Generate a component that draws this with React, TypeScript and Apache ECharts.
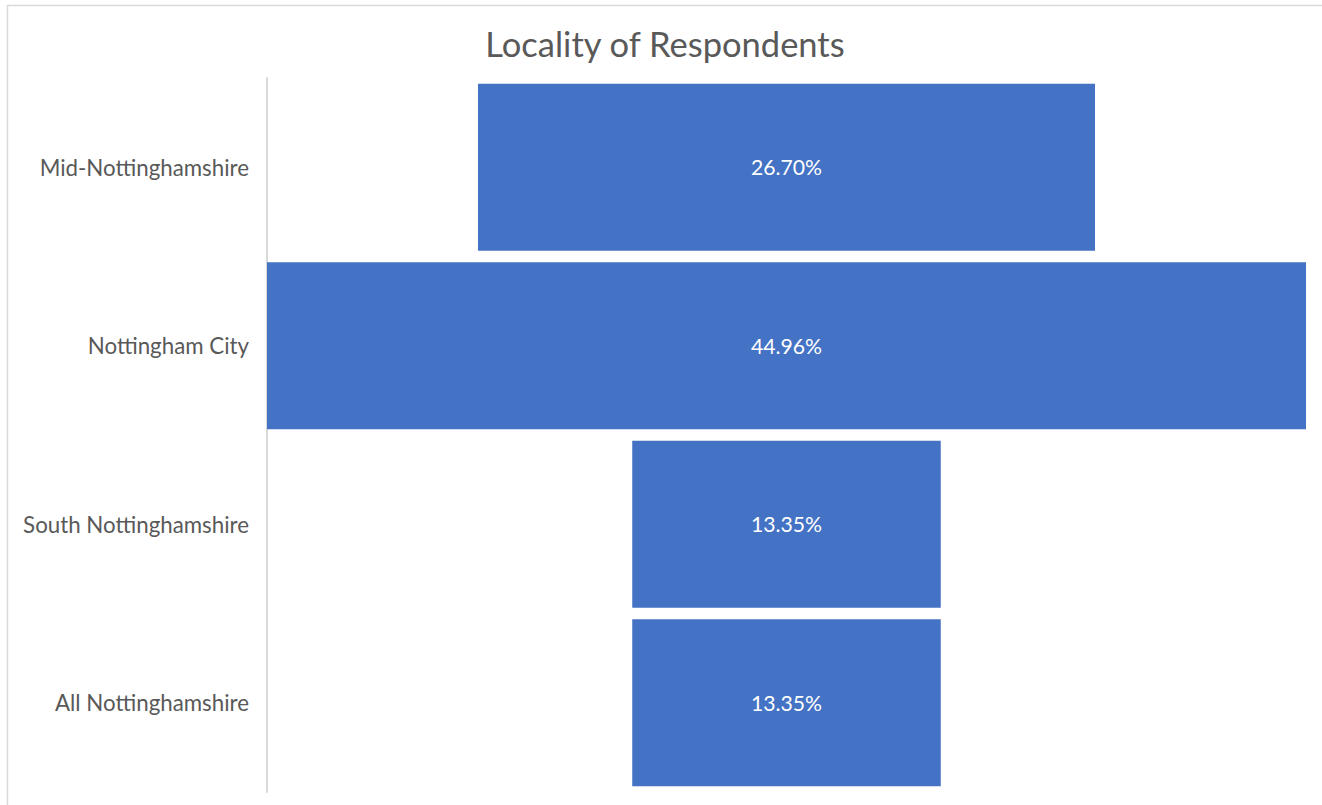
import React, { useEffect, useRef } from "react";
import * as echarts from "echarts";

const categories = ["Mid-Nottinghamshire", "Nottingham City", "South Nottinghamshire", "All Nottinghamshire"];
const values = [26.7, 44.96, 13.35, 13.35];
const titleText = "Locality of Respondents";

export default function App() {
  const ref = useRef<HTMLDivElement>(null);
  useEffect(() => {
    if (!ref.current) return;
    const chart = echarts.init(ref.current, null, { renderer: "svg" });
    const maxV = Math.max(...values);
    const offsets = values.map((v) => (maxV - v) / 2);
    const font = "Lato, 'Open Sans', sans-serif";
    chart.setOption({
      animation: false,
      backgroundColor: "#ffffff",
      title: {
        text: titleText,
        left: 660,
        textAlign: "center",
        top: 21,
        textStyle: { fontFamily: font, fontSize: 34.5, fontWeight: "normal", color: "#595959" },
      },
      grid: { left: 267, right: 16, top: 78, bottom: 13, containLabel: false },
      xAxis: {
        type: "value",
        min: 0,
        max: maxV,
        show: false,
      },
      yAxis: {
        type: "category",
        data: categories,
        inverse: true,
        axisLine: { show: true, lineStyle: { color: "#d9d9d9", width: 2 } },
        axisTick: { show: false },
        axisLabel: { fontFamily: font, fontSize: 22.3, color: "#595959", margin: 18 },
        splitLine: { show: false },
      },
      graphic: [
        {
          type: "rect",
          shape: { x: 7.5, y: 5.5, width: 1330, height: 820 },
          style: { fill: "none", stroke: "#d9d9d9", lineWidth: 1.5 },
          silent: true,
        },
      ],
      series: [
        {
          type: "bar",
          stack: "f",
          data: offsets,
          itemStyle: { color: "transparent" },
          barCategoryGap: "6.5%",
          silent: true,
        },
        {
          type: "bar",
          stack: "f",
          data: values,
          barCategoryGap: "6.5%",
          itemStyle: { color: "#4472C4" },
          label: {
            show: true,
            position: "inside",
            formatter: (p: any) => p.value.toFixed(2) + "%",
            fontFamily: font,
            fontSize: 21.2,
            color: "#ffffff",
          },
        },
      ],
    });
    return () => chart.dispose();
  }, []);
  return (
    <div
      ref={ref}
      style={{ position: "fixed", left: 0, top: 0, width: 1322, height: 805 }}
    />
  );
}
